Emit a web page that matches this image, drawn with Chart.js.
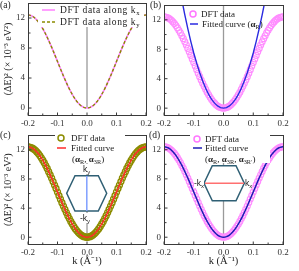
<!DOCTYPE html>
<html>
<head>
<meta charset="utf-8">
<script src="https://cdn.jsdelivr.net/npm/chart.js@4.4.1/dist/chart.umd.min.js"></script>
<style>
body { margin: 0; background: #fff; width: 299px; height: 271px; overflow: hidden; position: relative;
       font-family: 'Liberation Serif', serif; color: #222; }
canvas { position: absolute; }
.t { position: absolute; white-space: nowrap; font-size: 9px; line-height: 10px; }
.t sub { font-size: 70%; vertical-align: -2px; line-height: 0; }
.lab { position: absolute; font-size: 9.5px; line-height: 10px; }
.box { position: absolute; background: #fff; }
svg.ov { position: absolute; left: 0; top: 0; overflow: visible; }
.hx { font-family: 'Liberation Sans', sans-serif; font-size: 8.5px; background: #fff; }
</style>
</head>
<body>
<canvas id="pa" width="155" height="130" style="left:0;top:0"></canvas>
<canvas id="pb" width="149" height="130" style="left:150px;top:0"></canvas>
<canvas id="pc" width="155" height="141" style="left:0;top:130px"></canvas>
<canvas id="pd" width="149" height="141" style="left:150px;top:130px"></canvas>

<!-- panel letters -->
<div class="lab" style="left:0;top:0">(a)</div>
<div class="lab" style="left:150px;top:0">(b)</div>
<div class="lab" style="left:0;top:130px">(c)</div>
<div class="lab" style="left:149px;top:130px">(d)</div>

<!-- legend (a) -->
<div class="box" style="left:38px;top:5px;width:106px;height:22px"></div>
<svg class="ov" width="299" height="271">
  <line x1="42" y1="10" x2="55" y2="10" stroke="#ff80ff" stroke-width="1.5"/>
  <line x1="42" y1="22" x2="55" y2="22" stroke="#8c8c00" stroke-width="1.5" stroke-dasharray="3,2"/>
</svg>
<div class="t" style="left:60px;top:5px;letter-spacing:0.6px;font-size:9.5px">DFT data along k<sub>x</sub></div>
<div class="t" style="left:60px;top:17px;letter-spacing:0.6px;font-size:9.5px">DFT data along k<sub>y</sub></div>

<!-- legend (b) -->
<svg class="ov" width="299" height="271">
  <circle cx="193" cy="14" r="3" fill="none" stroke="#ff77ff" stroke-width="1.5"/>
  <line x1="190" y1="24" x2="198" y2="24" stroke="#2a2ae0" stroke-width="1.5"/>
</svg>
<div class="t" style="left:201px;top:9px">DFT data</div>
<div class="t" style="left:202px;top:19px">Fitted curve (<b>α</b><sub>R</sub>)</div>

<!-- legend (c) -->
<div class="box" style="left:55px;top:133px;width:70px;height:30px"></div>
<svg class="ov" width="299" height="271">
  <circle cx="61" cy="138" r="3" fill="none" stroke="#8c8c00" stroke-width="1.5"/>
  <line x1="57" y1="148" x2="66" y2="148" stroke="#ff2a2a" stroke-width="1.5"/>
</svg>
<div class="t" style="left:71px;top:133px">DFT data</div>
<div class="t" style="left:71px;top:143px">Fitted curve</div>
<div class="t" style="left:72px;top:154px">(<b>α</b><sub>R</sub>, <b>α</b><sub>3R</sub>)</div>

<!-- legend (d) -->
<div class="box" style="left:190px;top:133px;width:80px;height:30px"></div>
<svg class="ov" width="299" height="271">
  <circle cx="197" cy="139" r="3" fill="none" stroke="#ff77ff" stroke-width="1.5"/>
  <line x1="193" y1="148" x2="202" y2="148" stroke="#1c1cb4" stroke-width="1.5"/>
</svg>
<div class="t" style="left:205px;top:134px">DFT data</div>
<div class="t" style="left:205px;top:143px">Fitted curve</div>
<div class="t" style="left:205px;top:154px">(<b>α</b><sub>R</sub>, <b>α</b><sub>3R</sub>, <b>α</b><sub>3R′</sub>)</div>

<!-- Brillouin zone insets -->
<svg class="ov" width="299" height="271">
  <polygon points="75,175.7 98.3,175.7 106.7,193.3 98.3,211 75,211 66.7,193.3" fill="#fff" stroke="#2f5f74" stroke-width="1.5"/>
  <line x1="86.8" y1="176" x2="86.8" y2="211" stroke="#7f9fff" stroke-width="1.5"/>
  <polygon points="212.3,165.7 236,165.7 244.3,183.3 236,200.7 212.3,200.7 204,183.3" fill="#fff" stroke="#2f5f74" stroke-width="1.5"/>
  <line x1="205" y1="183.3" x2="244" y2="183.3" stroke="#ff7070" stroke-width="1.5"/>
</svg>
<div class="t hx" style="left:83px;top:164px">k<sub>y</sub></div>
<div class="t hx" style="left:80px;top:213px">-k<sub>y</sub></div>
<div class="t hx" style="left:194px;top:178px">-k<sub>x</sub></div>
<div class="t hx" style="left:245px;top:178px">k<sub>x</sub></div>

<script>
// k grid (1/Angstrom) of the DFT data
const kVals = [-0.2, -0.195, -0.19, -0.185, -0.18, -0.175, -0.17, -0.165, -0.16, -0.155,
  -0.15, -0.145, -0.14, -0.135, -0.13, -0.125, -0.12, -0.115, -0.11, -0.105,
  -0.1, -0.095, -0.09, -0.085, -0.08, -0.075, -0.07, -0.065, -0.06, -0.055,
  -0.05, -0.045, -0.04, -0.035, -0.03, -0.025, -0.02, -0.015, -0.01, -0.005,
  0, 0.005, 0.01, 0.015, 0.02, 0.025, 0.03, 0.035, 0.04, 0.045,
  0.05, 0.055, 0.06, 0.065, 0.07, 0.075, 0.08, 0.085, 0.09, 0.095,
  0.1, 0.105, 0.11, 0.115, 0.12, 0.125, 0.13, 0.135, 0.14, 0.145,
  0.15, 0.155, 0.16, 0.165, 0.17, 0.175, 0.18, 0.185, 0.19, 0.195, 0.2];

// (dE)^2 in 10^-3 eV^2, DFT (same along kx and ky)
const dftE = [12.4, 12.38, 12.32, 12.23, 12.1, 11.93, 11.72, 11.49, 11.22, 10.91,
  10.58, 10.23, 9.84, 9.44, 9.01, 8.57, 8.12, 7.65, 7.17, 6.69,
  6.2, 5.71, 5.23, 4.75, 4.28, 3.83, 3.39, 2.96, 2.56, 2.17,
  1.82, 1.49, 1.18, 0.91, 0.68, 0.47, 0.3, 0.17, 0.08, 0.02,
  0, 0.02, 0.08, 0.17, 0.3, 0.47, 0.68, 0.91, 1.18, 1.49,
  1.82, 2.17, 2.56, 2.96, 3.39, 3.83, 4.28, 4.75, 5.23, 5.71,
  6.2, 6.69, 7.17, 7.65, 8.12, 8.57, 9.01, 9.44, 9.84, 10.23,
  10.58, 10.91, 11.22, 11.49, 11.72, 11.93, 12.1, 12.23, 12.32, 12.38, 12.4];

// fits with higher-order terms follow the DFT curve
const fitHigh = dftE;

// fit with alpha_R only (parabola), panel (b)
const fitRK = [-0.15, -0.14, -0.13, -0.12, -0.11, -0.1, -0.09, -0.08, -0.07, -0.06, -0.05,
  -0.04, -0.03, -0.02, -0.01, 0, 0.01, 0.02, 0.03, 0.04, 0.05,
  0.06, 0.07, 0.08, 0.09, 0.1, 0.11, 0.12, 0.13, 0.14, 0.15];
const fitRE = [16.9, 14.7, 12.68, 10.8, 9.08, 7.5, 6.08, 4.8, 3.68, 2.7, 1.88,
  1.2, 0.68, 0.3, 0.08, 0, 0.08, 0.3, 0.68, 1.2, 1.88,
  2.7, 3.68, 4.8, 6.08, 7.5, 9.08, 10.8, 12.68, 14.7, 16.9];

const xMajor = [-0.2, -0.1, 0, 0.1, 0.2];
const xLabels = ['-0.2', '-0.1', '0.0', '0.1', '0.2'];
const xMinor = [-0.15, -0.05, 0.05, 0.15];
const yMajor = [0, 4, 8, 12];
const yMinor = [2, 6, 10];

const pts = (xs, ys) => xs.map((x, i) => ({x: x, y: ys[i]}));

// zero line, frame and inward ticks
const frameTicks = {
  id: 'frameTicks',
  beforeDatasetsDraw(chart) {
    const {ctx, chartArea: a, scales: {x, y}} = chart;
    const px = x.getPixelForValue(0);
    ctx.save();
    ctx.strokeStyle = '#9a9a9a';
    ctx.lineWidth = 1.3;
    ctx.beginPath();
    ctx.moveTo(px, y.getPixelForValue(0));
    ctx.lineTo(px, a.top);
    ctx.stroke();
    ctx.restore();
  },
  afterDatasetsDraw(chart) {
    const {ctx, chartArea: a, scales: {x, y}} = chart;
    ctx.save();
    ctx.strokeStyle = '#3a3a3a';
    ctx.lineWidth = 1;
    ctx.strokeRect(Math.round(a.left) + 0.5, Math.round(a.top) + 0.5,
      Math.round(a.right - a.left), Math.round(a.bottom - a.top));
    ctx.beginPath();
    const b = Math.round(a.bottom) + 0.5, l = Math.round(a.left) + 0.5;
    xMajor.forEach(v => { const p = x.getPixelForValue(v); ctx.moveTo(p, b); ctx.lineTo(p, b - 3); });
    xMinor.forEach(v => { const p = x.getPixelForValue(v); ctx.moveTo(p, b); ctx.lineTo(p, b - 2); });
    yMajor.forEach(v => { const p = y.getPixelForValue(v); ctx.moveTo(l, p); ctx.lineTo(l + 3, p); });
    yMinor.forEach(v => { const p = y.getPixelForValue(v); ctx.moveTo(l, p); ctx.lineTo(l + 2, p); });
    ctx.stroke();
    ctx.restore();
  }
};

const tickFont = {family: 'Liberation Serif', size: 9};

function makePanel(id, datasets, o) {
  new Chart(document.getElementById(id), {
    type: 'scatter',
    data: {datasets: datasets},
    options: {
      responsive: false,
      animation: false,
      layout: {padding: {top: o.top, right: o.right, left: 0, bottom: 0}},
      plugins: {legend: {display: false}, tooltip: {enabled: false}},
      scales: {
        x: {
          type: 'linear', min: -0.2, max: 0.2,
          afterBuildTicks: s => { s.ticks = xMajor.map(v => ({value: v})); },
          afterFit: s => { s.height = o.xh; s.paddingLeft = 0; s.paddingRight = 0; },
          grid: {display: false, drawTicks: false}, border: {display: false},
          ticks: {font: tickFont, color: '#333', padding: 3, maxRotation: 0,
                  callback: (v, i) => xLabels[i]},
          title: {display: o.xTitle, text: 'k (Å⁻¹)', color: '#222',
                  font: {family: 'Liberation Serif', size: 10.5}, padding: {top: 0, bottom: 3}}
        },
        y: {
          min: -0.93, max: 14,
          afterBuildTicks: s => { s.ticks = yMajor.map(v => ({value: v})); },
          afterFit: s => { s.width = o.yw; s.paddingTop = 0; s.paddingBottom = 0; },
          grid: {display: false, drawTicks: false}, border: {display: false},
          ticks: {font: tickFont, color: '#333', padding: 3},
          title: {display: o.yTitle, text: '(ΔE)² (× 10⁻³ eV²)', color: '#222',
                  font: {family: 'Liberation Serif', size: 10}, padding: {top: 2, bottom: 0}}
        }
      }
    },
    plugins: [frameTicks]
  });
}

// lower order is drawn on top
const line = (data, color, width, order, dash) => ({
  data: data, showLine: true, borderColor: color, borderWidth: width, order: order,
  borderDash: dash || [], pointRadius: 0, tension: 0
});
const circles = (data, color, bw) => ({
  data: data, showLine: false, pointRadius: 3, pointBorderWidth: bw, order: 2,
  pointBorderColor: color, pointBackgroundColor: 'rgba(0,0,0,0)'
});

makePanel('pa', [
  line(pts(kVals, dftE), '#ff80ff', 1.6, 2),
  line(pts(kVals, dftE), '#8c8c00', 1.4, 1, [3, 2])
], {top: 3, right: 9, yw: 28, xh: 15, yTitle: true, xTitle: false});

makePanel('pb', [
  circles(pts(kVals, dftE), '#ff8cff', 1.1),
  line(pts(fitRK, fitRE), '#2a2ae0', 1.4, 1)
], {top: 3, right: 16, yw: 14, xh: 15, yTitle: false, xTitle: false});

makePanel('pc', [
  circles(pts(kVals, dftE), '#8c8c00', 1.3),
  line(pts(kVals, fitHigh), '#ff2a2a', 1.5, 1)
], {top: 2, right: 9, yw: 28, xh: 27, yTitle: true, xTitle: true});

makePanel('pd', [
  circles(pts(kVals, dftE), '#ff8cff', 1.1),
  line(pts(kVals, fitHigh), '#1c1cb4', 1.5, 1)
], {top: 2, right: 16, yw: 14, xh: 27, yTitle: false, xTitle: true});
</script>
</body>
</html>
